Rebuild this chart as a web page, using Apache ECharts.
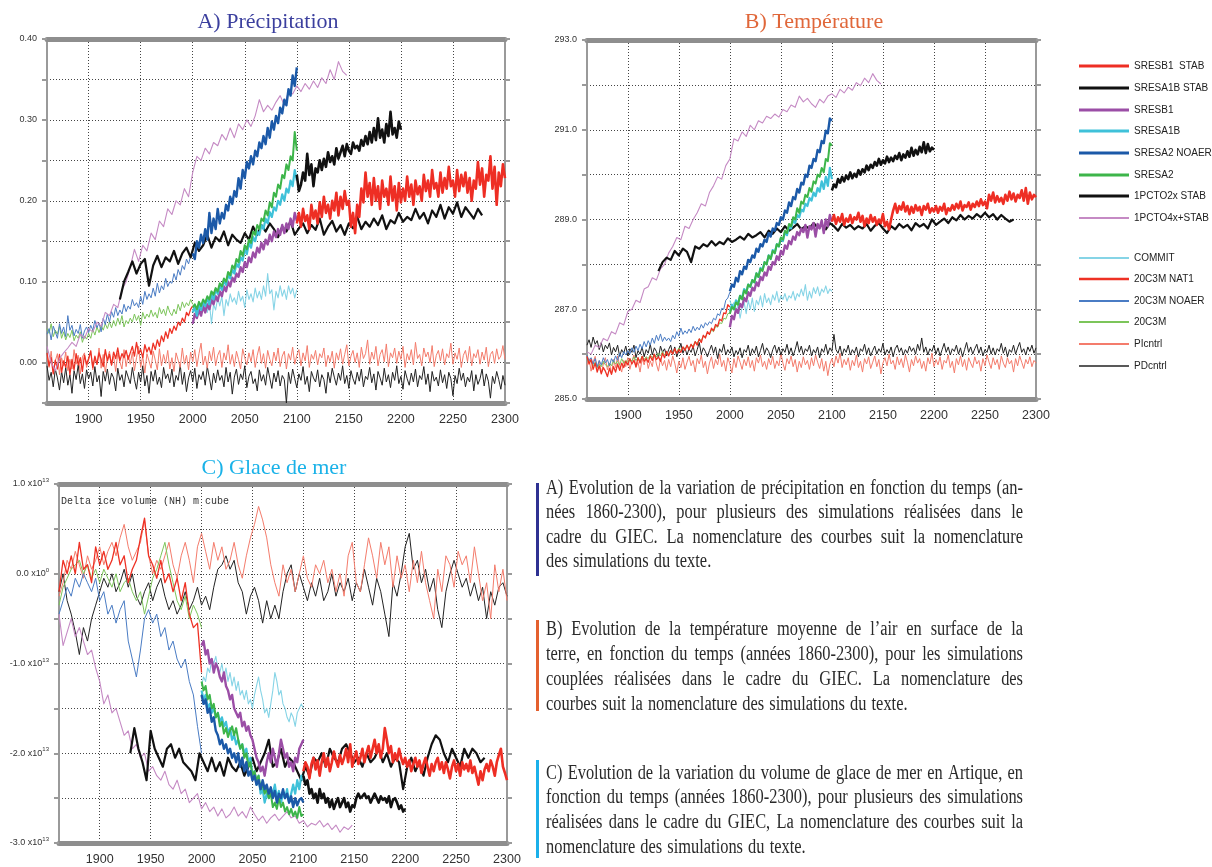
<!DOCTYPE html>
<html>
<head>
<meta charset="utf-8">
<script src="https://cdn.jsdelivr.net/npm/echarts@6.0.0/dist/echarts.min.js"></script>
<style>
  html, body { margin: 0; padding: 0; background: #fff; }
  #chart { width: 1212px; height: 867px; }
</style>
</head>
<body>
<div id="chart"></div>
<script>
// ---------------------------------------------------------------------------
// Simulated climate series, 1860-2300. Each run: first year, sampling step
// (years) and the sampled values.
// ---------------------------------------------------------------------------
const yearTicks = [1900, 1950, 2000, 2050, 2100, 2150, 2200, 2250, 2300];

// ---- A) precipitation change -------------------------------------------
const precipPIcntrl = [
  0.008,-0.006,0.014,-0.012,0.002,0.011,-0.015,0.006,-0.004,0.013,
  -0.01,0.004,-0.008,0.016,-0.002,0.009,-0.014,0.007,0.012,-0.006,
  0.003,0.015,-0.009,0.006,-0.003,0.018,-0.007,0.01,-0.012,0.005,
  0.014,-0.004,0.008,-0.011,0.012,0.001,-0.008,0.016,-0.005,0.009,
  -0.002,0.013,-0.01,0.006,0.02,-0.006,0.008,-0.013,0.011,0.002,
  -0.007,0.014,0.003,-0.009,0.017,-0.004,0.01,-0.001,0.015,-0.008,
  0.006,-0.011,0.012,0.003,-0.006,0.018,-0.002,0.009,-0.009,0.013,
  0.001,0.016,-0.005,0.011,0.024,-0.003,0.008,-0.007,0.014,0.002,
  0.019,-0.004,0.009,0.015,-0.006,0.012,0.003,0.022,-0.002,0.01,
  -0.005,0.014,0.004,-0.008,0.017,0.006,-0.003,0.012,0.001,0.016,
  -0.006,0.009,0.02,-0.001,0.011,-0.007,0.015,0.004,-0.004,0.013,
  0.002,0.018,-0.005,0.008,0.014,-0.008,0.011,0.003,0.019,-0.002,
  0.009,0.016,-0.004,0.012,0.002,0.021,-0.006,0.01,0.004,0.015,
  -0.003,0.011,0.006,0.018,-0.005,0.009,0.001,0.014,-0.007,0.012,
  0.003,0.017,-0.002,0.01,0.022,-0.004,0.008,0.015,0.0,0.012,
  -0.006,0.019,0.005,0.011,0.028,-0.002,0.013,0.004,0.02,-0.004,
  0.01,0.016,0.001,0.023,-0.005,0.012,0.006,0.018,-0.001,0.014,
  0.004,0.02,-0.006,0.011,0.003,0.016,-0.003,0.025,0.005,0.01,
  -0.004,0.018,0.007,0.013,0.0,0.021,-0.005,0.009,0.015,0.002,
  0.017,-0.003,0.011,0.006,0.024,-0.002,0.012,0.004,0.018,-0.006,
  0.009,0.015,0.001,0.02,-0.004,0.011,0.006,0.016,-0.002,0.013,
  0.003,0.019,-0.005,0.01,0.014,-0.001,0.017,0.004,0.008,0.021,
  0.004];
const precipPDcntrl = [
  -0.004,-0.022,-0.012,-0.03,-0.008,-0.019,-0.034,-0.011,-0.025,-0.006,
  -0.028,-0.015,-0.038,-0.01,-0.021,-0.003,-0.026,-0.014,-0.032,-0.009,
  -0.02,-0.012,-0.029,-0.005,-0.024,-0.016,-0.042,-0.011,-0.023,-0.008,
  -0.027,-0.013,-0.019,-0.035,-0.007,-0.022,-0.015,-0.03,-0.01,-0.018,
  -0.026,-0.006,-0.021,-0.033,-0.012,-0.024,-0.004,-0.029,-0.016,-0.038,
  -0.011,-0.023,-0.009,-0.027,-0.018,-0.031,-0.006,-0.02,-0.014,-0.025,
  -0.008,-0.03,-0.016,-0.022,-0.003,-0.027,-0.012,-0.036,-0.019,-0.01,
  -0.024,-0.007,-0.032,-0.015,-0.021,-0.011,-0.028,-0.005,-0.019,-0.034,
  -0.013,-0.025,-0.009,-0.022,-0.016,-0.03,-0.006,-0.024,-0.012,-0.039,
  -0.018,-0.008,-0.027,-0.014,-0.021,-0.004,-0.031,-0.017,-0.011,-0.026,
  -0.02,-0.035,-0.009,-0.023,-0.015,-0.028,-0.006,-0.019,-0.032,-0.013,
  -0.024,-0.01,-0.029,-0.016,-0.021,-0.05,-0.012,-0.026,-0.008,-0.02,
  -0.031,-0.014,-0.022,-0.005,-0.027,-0.017,-0.036,-0.011,-0.019,-0.024,
  -0.009,-0.03,-0.015,-0.021,-0.038,-0.012,-0.025,-0.007,-0.018,-0.028,
  -0.013,-0.022,-0.004,-0.026,-0.016,-0.032,-0.01,-0.02,-0.027,-0.012,
  -0.023,-0.008,-0.03,-0.017,-0.021,-0.006,-0.025,-0.014,-0.034,-0.011,
  -0.019,-0.028,-0.007,-0.024,-0.015,-0.031,-0.012,-0.022,-0.004,-0.026,
  -0.017,-0.033,-0.01,-0.02,-0.028,-0.013,-0.024,-0.008,-0.03,-0.016,
  -0.021,-0.005,-0.027,-0.014,-0.036,-0.011,-0.023,-0.018,-0.029,-0.009,
  -0.025,-0.015,-0.032,-0.012,-0.02,-0.041,-0.016,-0.026,-0.007,-0.022,
  -0.013,-0.03,-0.018,-0.024,-0.01,-0.035,-0.015,-0.027,-0.02,-0.008,
  -0.029,-0.014,-0.023,-0.044,-0.017,-0.026,-0.011,-0.021,-0.033,-0.016,
  -0.028];
const precip20C3MNAT1 = [
  0.012,-0.004,0.006,-0.014,0.003,-0.008,0.01,-0.012,0.002,-0.006,
  0.008,-0.015,0.004,-0.009,0.011,-0.003,0.006,-0.011,0.009,-0.002,
  0.005,0.014,-0.006,0.008,-0.002,0.012,0.004,-0.005,0.016,0.002,
  0.01,-0.003,0.013,0.005,0.018,0.002,0.011,0.006,0.015,0.004,
  0.012,0.02,0.008,0.025,0.011,0.016,0.006,0.022,0.013,0.019,
  0.01,0.024,0.016,0.028,0.02,0.033,0.026,0.038,0.03,0.042,
  0.036,0.045,0.04,0.05,0.046,0.055,0.05,0.062,0.058,0.066,
  0.07];
const precip20C3MNOAER = [
  0.035,0.042,0.028,0.045,0.038,0.03,0.048,0.036,0.044,0.032,
  0.058,0.04,0.046,0.033,0.041,0.036,0.047,0.03,0.039,0.044,
  0.037,0.046,0.04,0.052,0.043,0.049,0.038,0.055,0.047,0.06,
  0.05,0.063,0.056,0.068,0.058,0.065,0.06,0.072,0.063,0.07,
  0.066,0.078,0.07,0.074,0.068,0.082,0.072,0.088,0.078,0.085,
  0.08,0.092,0.082,0.098,0.086,0.095,0.09,0.104,0.094,0.1,
  0.098,0.11,0.102,0.115,0.108,0.12,0.115,0.128,0.122,0.132,
  0.138];
const precip20C3M = [
  0.042,0.036,0.048,0.032,0.04,0.035,0.045,0.03,0.038,0.028,
  0.036,0.031,0.04,0.027,0.034,0.03,0.038,0.025,0.033,0.029,
  0.036,0.03,0.041,0.034,0.044,0.037,0.046,0.04,0.048,0.042,
  0.05,0.043,0.052,0.045,0.055,0.047,0.058,0.044,0.052,0.048,
  0.055,0.05,0.06,0.052,0.058,0.046,0.062,0.054,0.06,0.056,
  0.065,0.057,0.062,0.055,0.068,0.06,0.066,0.058,0.07,0.062,
  0.058,0.066,0.06,0.072,0.064,0.075,0.068,0.074,0.07,0.078,
  0.072];
const precip1PCTO4x = [
  0.02,0.0,-0.01,0.005,0.012,0.018,0.025,0.02,0.035,0.03,
  0.042,0.038,0.05,0.045,0.062,0.058,0.072,0.068,0.09,0.1,
  0.118,0.14,0.125,0.145,0.138,0.16,0.152,0.175,0.168,0.19,
  0.183,0.2,0.195,0.215,0.205,0.235,0.255,0.25,0.265,0.258,
  0.272,0.268,0.282,0.275,0.29,0.278,0.295,0.288,0.3,0.292,
  0.305,0.325,0.31,0.318,0.312,0.322,0.33,0.318,0.335,0.332,
  0.342,0.335,0.345,0.338,0.348,0.34,0.352,0.345,0.362,0.35,
  0.372,0.36,0.355];
const precip1PCTO2x = [
  0.078,0.1,0.112,0.125,0.11,0.122,0.128,0.095,0.12,0.132,
  0.118,0.13,0.125,0.138,0.122,0.135,0.142,0.13,0.148,0.138,
  0.145,0.158,0.142,0.155,0.15,0.162,0.145,0.158,0.152,0.148,
  0.16,0.152,0.168,0.158,0.17,0.162,0.172,0.165,0.155,0.168,
  0.162,0.175,0.158,0.166,0.172,0.16,0.17,0.164,0.178,0.158,
  0.168,0.175,0.162,0.17,0.158,0.172,0.166,0.18,0.165,0.174,
  0.168,0.178,0.17,0.182,0.165,0.176,0.172,0.185,0.174,0.18,
  0.176,0.19,0.178,0.185,0.172,0.188,0.18,0.195,0.178,0.192,
  0.184,0.198,0.18,0.192,0.185,0.178,0.19,0.182];
const precipSRESA2NOAER = [
  0.135,0.128,0.15,0.142,0.158,0.148,0.165,0.152,0.185,0.16,
  0.178,0.165,0.19,0.172,0.185,0.178,0.195,0.188,0.205,0.196,
  0.212,0.205,0.228,0.215,0.238,0.228,0.248,0.24,0.255,0.245,
  0.262,0.255,0.272,0.265,0.28,0.27,0.29,0.278,0.298,0.288,
  0.305,0.296,0.315,0.308,0.325,0.318,0.338,0.33,0.355,0.342,
  0.365];
const precipSRESA2 = [
  0.068,0.072,0.066,0.075,0.07,0.078,0.074,0.082,0.078,0.088,
  0.084,0.092,0.088,0.098,0.094,0.104,0.1,0.112,0.108,0.12,
  0.116,0.128,0.124,0.138,0.132,0.145,0.14,0.152,0.148,0.162,
  0.158,0.17,0.165,0.178,0.175,0.188,0.182,0.198,0.192,0.21,
  0.205,0.22,0.215,0.232,0.228,0.245,0.238,0.255,0.25,0.285,
  0.262];
const precipSRESA1B = [
  0.062,0.068,0.058,0.072,0.065,0.075,0.07,0.08,0.072,0.085,
  0.078,0.09,0.085,0.095,0.09,0.102,0.096,0.108,0.104,0.115,
  0.11,0.122,0.118,0.13,0.126,0.14,0.134,0.148,0.142,0.155,
  0.15,0.162,0.158,0.17,0.165,0.178,0.172,0.186,0.18,0.192,
  0.188,0.2,0.195,0.208,0.2,0.215,0.21,0.225,0.218,0.238,
  0.225];
const precipSRESB1 = [
  0.048,0.06,0.055,0.065,0.058,0.07,0.062,0.072,0.066,0.078,
  0.072,0.082,0.076,0.088,0.082,0.094,0.088,0.1,0.094,0.105,
  0.1,0.11,0.106,0.118,0.112,0.124,0.118,0.13,0.124,0.136,
  0.13,0.142,0.136,0.148,0.14,0.152,0.146,0.158,0.15,0.162,
  0.155,0.165,0.158,0.17,0.16,0.172,0.165,0.178,0.168,0.185,
  0.175];
const precipCOMMIT = [
  0.065,0.072,0.06,0.075,0.068,0.078,0.07,0.062,0.075,0.048,
  0.072,0.065,0.08,0.07,0.082,0.058,0.078,0.07,0.085,0.075,
  0.08,0.072,0.088,0.076,0.082,0.068,0.09,0.078,0.085,0.075,
  0.092,0.08,0.088,0.078,0.095,0.082,0.11,0.085,0.09,0.065,
  0.088,0.08,0.095,0.082,0.09,0.078,0.095,0.085,0.092,0.08,
  0.09];
const precipSRESA1BSTAB = [
  0.232,0.212,0.22,0.235,0.225,0.258,0.232,0.245,0.218,0.24,
  0.235,0.25,0.238,0.252,0.242,0.26,0.248,0.255,0.245,0.265,
  0.252,0.26,0.268,0.255,0.27,0.262,0.258,0.272,0.265,0.268,
  0.262,0.275,0.268,0.28,0.27,0.285,0.272,0.29,0.275,0.302,
  0.278,0.288,0.272,0.295,0.28,0.31,0.282,0.29,0.278,0.298,
  0.288];
const precipSRESB1STAB = [
  0.172,0.185,0.168,0.19,0.175,0.182,0.165,0.195,0.178,0.188,
  0.172,0.198,0.18,0.205,0.185,0.195,0.178,0.2,0.188,0.21,
  0.182,0.205,0.19,0.212,0.195,0.2,0.168,0.185,0.16,0.195,
  0.18,0.215,0.198,0.235,0.205,0.222,0.195,0.228,0.2,0.218,
  0.19,0.225,0.205,0.215,0.195,0.23,0.2,0.218,0.188,0.222,
  0.198,0.215,0.2,0.23,0.205,0.22,0.195,0.225,0.208,0.218,
  0.2,0.232,0.212,0.225,0.205,0.238,0.215,0.222,0.205,0.235,
  0.21,0.228,0.215,0.242,0.218,0.225,0.205,0.238,0.212,0.232,
  0.218,0.235,0.21,0.228,0.2,0.225,0.215,0.248,0.22,0.24,
  0.205,0.232,0.225,0.255,0.215,0.242,0.195,0.235,0.218,0.245,
  0.228];

// ---- B) surface air temperature (K) ------------------------------------
const tempPIcntrl = [
  285.75,285.9,285.62,285.82,285.95,285.68,285.85,285.58,285.78,285.92,
  285.65,285.8,285.55,285.88,285.7,285.96,285.74,285.6,285.86,285.72,
  285.92,285.66,285.84,285.98,285.7,285.82,285.6,285.9,285.76,285.94,
  285.68,285.85,285.72,286.0,285.78,285.62,285.9,285.74,285.86,285.64,
  285.88,285.72,285.96,285.8,285.58,285.84,285.7,285.92,285.66,285.82,
  285.95,285.74,285.86,285.6,285.9,285.78,285.98,285.7,285.84,285.56,
  285.8,285.94,285.68,285.88,285.76,286.0,285.72,285.86,285.62,285.92,
  285.78,285.58,285.9,285.7,285.96,285.82,285.66,285.88,285.74,285.94,
  285.7,285.86,285.62,285.92,285.8,285.98,285.72,285.84,285.66,285.9,
  285.76,285.95,285.68,285.85,285.74,286.02,285.8,285.64,285.9,285.78,
  285.96,285.72,285.88,285.6,285.84,285.7,285.94,285.76,285.86,285.66,
  285.92,285.74,285.98,285.82,285.68,285.9,285.62,285.84,285.52,285.78,
  285.9,285.72,285.96,285.8,286.02,285.7,285.88,285.76,285.92,285.64,
  285.86,285.74,285.98,285.7,285.84,285.6,285.9,285.78,285.94,285.68,
  285.82,285.96,285.72,285.88,285.56,285.8,285.92,285.74,286.0,285.78,
  285.86,285.66,285.94,285.76,285.9,285.7,285.98,285.82,285.6,285.88,
  285.74,285.96,285.8,285.9,285.68,285.84,285.62,285.92,285.78,286.02,
  285.72,285.88,285.76,285.94,285.66,285.86,285.8,285.98,285.7,285.84,
  285.58,285.9,285.76,285.96,285.72,285.88,285.64,285.92,285.8,285.7,
  285.94,285.78,285.86,285.62,285.9,285.74,285.98,285.82,285.68,285.92,
  285.76,285.88,285.66,285.96,285.8,285.7,285.92,285.78,285.86,285.6,
  285.9,285.74,285.96,285.82,285.68,285.88,285.78,285.94,285.72,285.86,
  285.8];
const tempPDcntrl = [
  286.2,286.32,286.15,286.38,286.22,286.3,286.1,286.26,286.05,286.2,
  286.12,286.25,285.98,286.15,286.05,286.2,285.95,286.1,286.02,286.18,
  285.96,286.12,286.04,286.2,285.92,286.08,286.0,286.16,285.94,286.1,
  286.02,286.22,285.98,286.14,286.06,285.92,286.18,286.04,286.12,285.96,
  286.1,286.2,286.0,286.16,285.94,286.08,286.24,286.02,286.14,285.98,
  286.12,286.04,286.18,285.96,286.1,286.26,286.0,286.14,286.06,285.94,
  286.08,286.2,286.02,286.16,285.9,286.12,286.04,286.22,285.98,286.1,
  286.02,286.16,285.94,286.08,286.0,286.14,285.92,286.1,286.04,286.2,
  285.96,286.12,286.02,286.18,285.94,286.08,286.24,286.0,286.14,286.06,
  285.92,286.1,286.2,286.02,286.16,285.98,286.12,286.04,286.22,286.0,
  286.14,285.96,286.1,286.28,286.04,286.18,285.98,286.12,286.06,286.2,
  285.96,286.1,286.02,286.16,285.92,286.12,286.04,286.22,286.0,286.14,
  286.06,286.44,286.1,286.02,286.18,285.96,286.12,286.04,286.2,285.98,
  286.1,286.02,286.16,285.94,286.12,286.06,286.22,286.0,286.14,285.96,
  286.08,286.18,286.0,286.12,286.04,286.24,285.98,286.1,286.02,286.16,
  285.94,286.12,286.2,286.04,286.14,285.98,286.1,286.02,286.18,286.06,
  286.14,286.0,286.22,286.08,286.36,286.04,286.16,285.98,286.12,286.06,
  286.2,286.0,286.14,285.96,286.1,286.24,286.04,286.16,285.98,286.12,
  286.06,286.2,286.0,286.14,285.94,286.1,286.26,286.04,286.16,286.0,
  286.12,286.22,286.02,286.16,285.96,286.1,286.04,286.2,286.0,286.14,
  285.98,286.12,286.06,286.24,286.02,286.16,285.94,286.1,286.04,286.2,
  286.0,286.14,286.26,286.04,286.12,285.98,286.16,286.06,286.2,286.02,
  286.14];
const temp20C3MNAT1 = [
  285.95,285.78,285.88,285.66,285.8,285.6,285.74,285.56,285.7,285.62,
  285.5,285.68,285.55,285.72,285.6,285.78,285.64,285.8,285.7,285.84,
  285.76,285.9,285.78,285.86,285.72,285.92,285.8,285.95,285.84,285.9,
  285.82,285.96,285.86,286.0,285.88,285.94,285.84,286.02,285.92,286.06,
  285.96,286.08,286.0,286.12,286.02,286.1,286.04,286.16,286.08,286.2,
  286.1,286.22,286.14,286.28,286.2,286.34,286.26,286.42,286.36,286.5,
  286.44,286.58,286.52,286.66,286.62,286.78,286.74,286.92,286.9,287.1,
  287.05];
const temp20C3MNOAER = [
  285.98,285.85,285.92,285.78,285.9,285.72,285.86,285.76,285.92,285.8,
  285.88,285.74,285.9,285.82,285.96,285.86,286.02,285.92,286.06,285.98,
  286.08,286.0,286.14,286.04,286.18,286.08,286.22,286.12,286.28,286.16,
  286.3,286.2,286.36,286.24,286.42,286.3,286.45,286.28,286.38,286.3,
  286.36,286.28,286.42,286.34,286.5,286.4,286.58,286.44,286.52,286.46,
  286.56,286.48,286.62,286.52,286.6,286.54,286.66,286.58,286.7,286.64,
  286.72,286.68,286.8,286.76,286.9,286.86,287.02,287.0,287.2,287.25,
  287.38];
const temp20C3M = [
  285.9,285.8,285.86,285.74,285.82,285.7,285.78,285.72,285.84,285.76,
  285.72,285.8,285.74,285.86,285.78,285.84,285.76,285.9,285.8,285.86,
  285.82,285.9,285.84,285.94,285.86,285.92,285.84,285.96,285.88,285.94,
  285.9,285.98,285.92,286.0,285.94,286.02,285.96,286.06,285.98,286.04,
  286.0,286.08,286.02,286.1,286.04,286.14,286.08,286.16,286.1,286.2,
  286.12,286.22,286.18,286.28,286.24,286.34,286.3,286.4,286.38,286.48,
  286.44,286.54,286.5,286.62,286.6,286.7,286.68,286.8,286.78,286.9,
  286.92];
const temp1PCTO4x = [
  286.05,286.0,286.2,286.15,286.35,286.3,286.5,286.45,286.7,286.65,
  286.95,287.0,287.2,287.15,287.45,287.5,287.7,287.65,287.9,288.0,
  288.25,288.4,288.6,288.55,288.85,288.8,289.0,289.15,289.35,289.3,
  289.6,289.75,289.95,289.9,290.2,290.35,290.8,290.75,290.95,290.85,
  291.1,291.0,291.2,291.15,291.3,291.25,291.35,291.28,291.45,291.4,
  291.55,291.5,291.75,291.62,291.7,291.58,291.5,291.68,291.6,291.75,
  291.8,291.72,291.9,291.82,291.95,291.88,292.05,291.98,292.15,292.05,
  292.25,292.1,292.02];
const temp1PCTO2x = [
  287.85,288.05,288.15,288.1,288.3,288.2,288.35,288.28,288.05,288.4,
  288.35,288.45,288.4,288.52,288.42,288.5,288.45,288.58,288.5,288.55,
  288.62,288.55,288.68,288.6,288.65,288.72,288.6,288.75,288.68,288.8,
  288.72,288.85,288.75,288.82,288.9,288.78,288.85,288.8,288.92,288.82,
  288.88,288.78,288.92,288.85,288.75,288.9,288.82,288.88,288.78,288.85,
  288.8,288.9,288.75,288.86,288.92,288.8,288.7,288.85,288.78,288.9,
  288.82,288.88,288.76,288.92,288.84,288.9,288.8,289.0,288.88,288.95,
  289.02,288.92,289.05,288.98,289.1,289.0,289.08,289.02,289.12,289.05,
  289.15,289.05,289.12,289.0,289.1,289.02,288.95,289.0];
const tempSRESA2NOAER = [
  287.4,287.55,287.5,287.7,287.62,287.85,287.78,287.95,287.9,288.1,
  288.05,288.2,288.15,288.35,288.28,288.45,288.4,288.55,288.5,288.7,
  288.62,288.8,288.75,288.92,288.88,289.05,289.0,289.2,289.15,289.38,
  289.3,289.5,289.45,289.68,289.6,289.82,289.78,290.0,289.95,290.2,
  290.15,290.35,290.3,290.55,290.5,290.75,290.7,290.98,290.92,291.25,
  291.2];
const tempSRESA2 = [
  286.9,287.05,287.0,287.15,287.1,287.3,287.22,287.42,287.35,287.55,
  287.5,287.65,287.6,287.8,287.72,287.9,287.85,288.05,288.0,288.2,
  288.12,288.3,288.25,288.45,288.4,288.6,288.55,288.75,288.7,288.9,
  288.85,289.05,289.0,289.25,289.15,289.4,289.35,289.55,289.5,289.7,
  289.62,289.85,289.8,290.0,289.95,290.15,290.05,290.35,290.3,290.7,
  290.65];
const tempSRESA1B = [
  286.95,287.1,287.0,287.2,287.12,287.3,287.25,287.45,287.38,287.55,
  287.5,287.65,287.6,287.8,287.72,287.92,287.88,288.05,288.0,288.2,
  288.12,288.32,288.25,288.45,288.4,288.58,288.52,288.72,288.65,288.85,
  288.8,288.98,288.92,289.1,289.05,289.22,289.18,289.35,289.3,289.48,
  289.42,289.6,289.52,289.7,289.62,289.85,289.68,289.95,289.75,290.15,
  289.9];
const tempSRESB1 = [
  286.6,286.85,286.78,287.0,286.92,287.12,287.05,287.25,287.18,287.38,
  287.3,287.48,287.42,287.6,287.52,287.72,287.65,287.82,287.75,287.95,
  287.88,288.05,288.0,288.18,288.1,288.3,288.22,288.42,288.35,288.52,
  288.45,288.62,288.55,288.72,288.65,288.8,288.72,288.88,288.6,288.85,
  288.78,288.92,288.62,288.9,288.8,288.98,288.7,289.0,288.85,289.1,
  288.95];
const tempCOMMIT = [
  287.2,287.05,287.15,286.95,287.1,286.8,287.05,287.15,286.9,287.2,
  287.0,287.25,286.95,287.2,287.1,287.3,287.05,287.35,287.15,287.25,
  287.1,287.32,287.2,287.4,287.15,287.3,287.22,287.35,287.18,287.3,
  287.25,287.4,287.2,287.35,287.28,287.45,287.3,287.55,287.2,287.4,
  287.25,287.48,287.35,287.5,287.3,287.45,287.38,287.52,287.35,287.45,
  287.4];
const tempSRESA1BSTAB = [
  289.65,289.78,289.72,289.9,289.82,289.95,289.85,289.98,289.9,290.05,
  289.92,290.02,289.95,290.1,290.0,290.12,290.05,290.2,290.1,290.22,
  290.15,290.28,290.2,290.35,290.22,290.32,290.25,290.4,290.28,290.38,
  290.3,290.42,290.35,290.48,290.32,290.45,290.38,290.52,290.4,290.6,
  290.42,290.55,290.45,290.62,290.5,290.72,290.48,290.68,290.52,290.6,
  290.55];
const tempSRESB1STAB = [
  288.95,289.1,288.9,289.05,288.95,289.12,288.88,289.02,288.95,289.1,
  288.92,289.05,289.0,289.15,288.95,289.08,288.85,289.02,288.92,289.1,
  288.95,289.05,288.88,289.0,288.92,289.12,288.85,288.95,288.78,289.0,
  289.2,289.35,289.15,289.3,289.22,289.38,289.18,289.3,289.12,289.28,
  289.15,289.32,289.2,289.28,289.1,289.3,289.22,289.35,289.15,289.25,
  289.18,289.3,289.15,289.28,289.2,289.35,289.12,289.25,289.2,289.32,
  289.22,289.35,289.25,289.4,289.2,289.32,289.28,289.38,289.22,289.35,
  289.28,289.4,289.3,289.45,289.32,289.4,289.25,289.55,289.42,289.6,
  289.38,289.52,289.4,289.48,289.35,289.55,289.42,289.62,289.45,289.58,
  289.4,289.55,289.48,289.65,289.42,289.7,289.35,289.6,289.45,289.55,
  289.5];

// ---- C) Arctic sea-ice volume change (units of 1e13 m3) ---------------
const icePIcntrl = [
  -0.25,-0.1,0.15,0.05,0.25,0.1,-0.05,0.2,0.05,0.15,
  0.3,0.1,0.25,0.35,0.2,0.4,0.55,0.3,0.15,0.25,
  0.35,0.6,0.2,0.0,0.15,0.05,0.2,0.35,0.1,-0.05,
  0.2,0.35,0.15,-0.1,0.3,0.45,0.25,0.05,0.35,0.15,
  0.3,0.05,0.15,0.35,0.1,-0.05,0.2,0.4,0.55,0.75,
  0.6,0.4,0.1,-0.1,-0.25,0.1,-0.1,0.05,-0.2,0.0,
  0.2,-0.05,-0.15,0.1,0.0,0.15,-0.1,0.05,-0.2,0.0,
  -0.25,0.2,0.35,-0.1,-0.2,0.1,0.4,0.2,-0.05,0.35,
  0.1,0.3,-0.15,0.2,-0.05,0.1,-0.2,0.15,-0.1,0.25,
  -0.1,-0.3,-0.5,0.05,-0.2,0.2,0.1,-0.15,0.25,0.1,
  0.2,-0.1,0.3,0.0,-0.3,-0.1,-0.5,0.1,-0.2,0.05,-0.3];
const icePDcntrl = [
  -0.2,0.0,-0.3,-0.45,-0.65,-0.9,-0.6,-0.75,-0.5,-0.35,
  -0.2,-0.05,-0.15,0.0,-0.2,-0.1,0.05,-0.15,0.0,-0.25,
  -0.35,-0.2,-0.1,-0.3,-0.15,-0.05,-0.25,-0.4,-0.3,-0.45,
  -0.35,-0.2,-0.4,-0.3,-0.15,-0.35,-0.25,-0.4,-0.15,0.05,
  0.1,0.2,0.05,0.15,-0.1,-0.2,-0.45,-0.25,-0.15,-0.3,
  -0.55,-0.3,-0.5,-0.35,-0.5,-0.2,0.0,0.1,-0.2,0.0,
  -0.15,-0.3,-0.1,-0.25,-0.05,-0.3,-0.2,0.0,-0.25,-0.1,
  -0.2,-0.05,-0.3,-0.1,-0.2,0.05,-0.15,-0.35,-0.05,-0.2,
  -0.45,-0.7,-0.1,-0.25,0.0,0.3,0.45,0.05,0.15,-0.1,
  0.05,-0.2,-0.05,-0.4,-0.6,-0.2,0.0,0.15,0.0,-0.15,
  -0.05,-0.25,-0.1,-0.3,-0.15,-0.5,-0.2,-0.35,-0.15,-0.1,-0.25];
const ice20C3MNAT1 = [
  -0.2,0.15,0.0,0.2,0.0,0.35,0.05,0.1,-0.1,0.3,
  0.1,0.25,0.05,0.15,0.35,0.1,0.2,-0.1,0.05,0.15,
  0.4,0.62,0.2,0.1,-0.05,0.15,-0.1,0.0,-0.2,-0.05,
  -0.3,-0.1,-0.45,-0.6,-0.55,-1.1];
const ice20C3MNOAER = [
  -0.45,-0.3,-0.15,-0.25,-0.05,-0.15,0.0,-0.1,-0.2,-0.05,
  -0.3,-0.2,-0.45,-0.35,-0.55,-0.4,-0.3,-0.75,-0.95,-1.15,
  -0.85,-0.5,-0.4,-0.55,-0.45,-0.7,-0.6,-0.85,-0.75,-0.95,
  -1.05,-0.95,-1.2,-1.35,-1.7,-2.0];
const ice20C3M = [
  -0.35,-0.15,-0.05,0.05,0.1,0.15,0.0,0.1,-0.05,0.05,
  -0.1,0.05,-0.05,-0.15,0.0,-0.2,-0.1,-0.05,-0.2,-0.3,
  -0.2,-0.45,-0.25,-0.05,0.05,0.2,0.35,0.1,-0.1,-0.3,
  -0.4,-0.25,-0.5,-0.35,-0.45,-0.6];
const ice1PCTO4x = [
  -0.45,-0.8,-0.65,-0.5,-0.7,-0.6,-0.75,-0.9,-0.85,-1.05,
  -1.2,-1.45,-1.35,-1.55,-1.5,-1.65,-1.8,-1.75,-1.95,-1.9,
  -2.05,-2.0,-2.2,-2.15,-2.25,-2.3,-2.2,-2.35,-2.4,-2.3,
  -2.45,-2.4,-2.55,-2.5,-2.45,-2.62,-2.55,-2.65,-2.6,-2.7,
  -2.62,-2.72,-2.68,-2.6,-2.7,-2.65,-2.72,-2.6,-2.68,-2.75,
  -2.7,-2.78,-2.72,-2.68,-2.75,-2.7,-2.65,-2.72,-2.7,-2.78,
  -2.75,-2.82,-2.78,-2.8,-2.75,-2.82,-2.78,-2.85,-2.8,-2.88,
  -2.82,-2.85,-2.8];
const ice1PCTO2x = [
  -2.0,-1.72,-1.95,-2.1,-2.3,-1.75,-1.95,-2.05,-2.15,-1.95,
  -1.9,-2.05,-1.95,-2.1,-2.15,-2.2,-2.3,-2.0,-2.1,-2.2,
  -2.05,-2.2,-2.1,-2.25,-2.05,-2.15,-2.2,-2.1,-2.25,-2.15,
  -2.05,-2.2,-2.1,-2.0,-1.85,-2.15,-2.1,-1.95,-2.15,-2.05,
  -2.1,-2.2,-2.3,-2.15,-2.25,-2.05,-2.1,-2.0,-2.15,-1.95,
  -2.05,-2.1,-1.95,-1.9,-2.0,-2.1,-2.05,-2.15,-2.0,-2.1,
  -2.05,-1.95,-2.1,-2.0,-2.15,-2.05,-2.1,-2.4,-2.15,-2.05,
  -2.2,-2.1,-2.25,-2.05,-1.9,-1.8,-1.85,-2.0,-2.1,-1.95,
  -2.05,-2.15,-1.95,-2.05,-1.95,-2.0,-2.1,-2.05];
const iceSRESA2NOAER = [
  -1.35,-1.45,-1.4,-1.55,-1.5,-1.65,-1.6,-1.75,-1.8,-1.9,
  -1.85,-1.95,-1.9,-2.0,-1.95,-2.05,-2.0,-2.1,-2.0,-2.15,
  -2.05,-2.2,-2.1,-2.25,-2.2,-2.3,-2.25,-2.35,-2.3,-2.4,
  -2.3,-2.4,-2.35,-2.45,-2.38,-2.5,-2.42,-2.55,-2.45,-2.5,
  -2.4,-2.5,-2.45,-2.55,-2.48,-2.6,-2.5,-2.58,-2.52,-2.5,
  -2.55];
const iceSRESA2 = [
  -1.2,-1.3,-1.25,-1.4,-1.35,-1.5,-1.45,-1.6,-1.55,-1.7,
  -1.65,-1.78,-1.72,-1.82,-1.75,-1.7,-1.8,-1.72,-1.85,-1.95,
  -1.9,-2.05,-2.0,-2.15,-2.1,-2.25,-2.2,-2.3,-2.25,-2.4,
  -2.35,-2.45,-2.4,-2.5,-2.45,-2.6,-2.55,-2.62,-2.5,-2.6,
  -2.55,-2.65,-2.6,-2.68,-2.62,-2.7,-2.65,-2.72,-2.6,-2.7,
  -2.68];
const iceSRESA1B = [
  -1.3,-1.4,-1.35,-1.5,-1.45,-1.55,-1.5,-1.6,-1.55,-1.65,
  -1.6,-1.7,-1.65,-1.78,-1.72,-1.85,-1.8,-1.9,-1.85,-1.95,
  -1.9,-2.0,-1.95,-2.1,-2.05,-2.25,-2.2,-2.35,-2.25,-2.45,
  -2.4,-2.55,-2.45,-2.5,-2.4,-2.45,-2.35,-2.5,-2.42,-2.55,
  -2.45,-2.5,-2.4,-2.55,-2.45,-2.35,-2.45,-2.3,-2.4,-2.25,
  -2.3];
const iceSRESB1 = [
  -0.8,-0.75,-0.9,-0.85,-1.0,-0.95,-1.1,-1.0,-1.05,-1.15,
  -1.2,-1.1,-1.25,-1.3,-1.4,-1.35,-1.5,-1.55,-1.6,-1.55,
  -1.7,-1.65,-1.75,-1.7,-1.8,-1.85,-1.95,-2.05,-2.1,-2.2,
  -2.15,-2.25,-2.1,-2.0,-2.1,-1.95,-2.05,-2.15,-2.0,-1.85,
  -1.95,-2.05,-2.0,-2.15,-2.1,-2.2,-2.05,-2.1,-1.95,-1.9,
  -1.85];
const iceCOMMIT = [
  -1.25,-1.15,-1.2,-1.05,-1.1,-0.95,-1.0,-0.92,-1.05,-1.1,
  -1.0,-1.15,-1.05,-1.2,-1.1,-1.25,-1.15,-1.3,-1.2,-1.35,
  -1.3,-1.4,-1.3,-1.45,-1.4,-1.5,-1.35,-1.25,-1.15,-1.3,
  -1.4,-1.55,-1.5,-1.6,-1.45,-1.3,-1.1,-1.2,-1.35,-1.3,
  -1.45,-1.5,-1.6,-1.65,-1.55,-1.6,-1.7,-1.55,-1.5,-1.45,
  -1.5];
const iceSRESA1BSTAB = [
  -2.25,-2.35,-2.3,-2.45,-2.4,-2.5,-2.45,-2.55,-2.4,-2.5,
  -2.45,-2.55,-2.5,-2.6,-2.52,-2.62,-2.55,-2.5,-2.6,-2.55,
  -2.5,-2.6,-2.55,-2.65,-2.58,-2.6,-2.5,-2.45,-2.5,-2.48,
  -2.45,-2.5,-2.48,-2.55,-2.5,-2.45,-2.5,-2.55,-2.48,-2.52,
  -2.5,-2.55,-2.48,-2.6,-2.52,-2.5,-2.55,-2.62,-2.58,-2.65,
  -2.62];
const iceSRESB1STAB = [
  -2.2,-2.1,-2.15,-2.28,-2.12,-2.05,-2.18,-2.08,-2.25,-2.1,
  -2.0,-2.15,-2.05,-2.2,-2.1,-1.98,-2.08,-2.15,-2.02,-2.12,
  -2.05,-1.95,-2.1,-1.9,-2.15,-2.05,-1.98,-2.12,-2.05,-1.95,
  -2.1,-2.0,-1.92,-2.05,-1.95,-1.85,-2.0,-1.9,-2.05,-1.95,
  -1.72,-1.85,-2.0,-1.92,-2.1,-2.0,-2.08,-1.95,-2.05,-2.12,
  -2.05,-2.15,-2.08,-2.2,-2.12,-2.05,-2.15,-2.08,-2.22,-2.12,
  -2.05,-2.15,-2.25,-2.12,-2.2,-2.1,-2.05,-2.18,-2.1,-2.22,
  -2.1,-2.18,-2.28,-2.15,-2.08,-2.2,-2.12,-2.25,-2.1,-2.18,
  -2.12,-2.2,-2.08,-2.22,-2.15,-2.25,-2.35,-2.2,-2.3,-2.18,
  -2.12,-2.2,-2.08,-2.15,-2.25,-2.1,-2.02,-1.95,-2.15,-2.22,
  -2.3];

// ---------------------------------------------------------------------------
// Run styles and legend
// ---------------------------------------------------------------------------
const STYLE = {
  'SRESB1  STAB':  { color: '#ee2e24', width: 2.6, legendH: 3 },
  'SRESA1B STAB':  { color: '#111111', width: 2.6, legendH: 3 },
  'SRESB1':        { color: '#9b4ea6', width: 2.4, legendH: 3 },
  'SRESA1B':       { color: '#3fc1d9', width: 2.2, legendH: 3 },
  'SRESA2 NOAER':  { color: '#1b59a8', width: 2.4, legendH: 3 },
  'SRESA2':        { color: '#3db54a', width: 2.0, legendH: 3 },
  '1PCTO2x STAB':  { color: '#111111', width: 2.2, legendH: 3 },
  '1PCTO4x+STAB':  { color: '#c58ac4', width: 1.1, legendH: 2 },
  'COMMIT':        { color: '#86d4e6', width: 1.1, legendH: 2 },
  '20C3M NAT1':    { color: '#ee3124', width: 1.3, legendH: 2.5 },
  '20C3M NOAER':   { color: '#4a7cc4', width: 1.0, legendH: 2 },
  '20C3M':         { color: '#7cc55a', width: 1.0, legendH: 2 },
  'PIcntrl':       { color: '#f47c6c', width: 1.0, legendH: 2 },
  'PDcntrl':       { color: '#222222', width: 1.0, legendH: 1.6 }
};
const legendRows = [
  ['SRESB1  STAB', 66], ['SRESA1B STAB', 88], ['SRESB1', 110], ['SRESA1B', 131],
  ['SRESA2 NOAER', 153], ['SRESA2', 175], ['1PCTO2x STAB', 196], ['1PCTO4x+STAB', 218],
  ['COMMIT', 258], ['20C3M NAT1', 279], ['20C3M NOAER', 301], ['20C3M', 322],
  ['PIcntrl', 344], ['PDcntrl', 366]
];

// drawing order inside each panel: [run, first year, step, values]
const panelRuns = [
  [
    ['PDcntrl', 1860, 2, precipPDcntrl], ['PIcntrl', 1860, 2, precipPIcntrl],
    ['20C3M', 1860, 2, precip20C3M], ['20C3M NOAER', 1860, 2, precip20C3MNOAER],
    ['20C3M NAT1', 1860, 2, precip20C3MNAT1], ['1PCTO4x+STAB', 1860, 4, precip1PCTO4x],
    ['1PCTO2x STAB', 1930, 4, precip1PCTO2x], ['COMMIT', 2000, 2, precipCOMMIT],
    ['SRESB1', 2000, 2, precipSRESB1], ['SRESA1B', 2000, 2, precipSRESA1B],
    ['SRESA2', 2000, 2, precipSRESA2], ['SRESA2 NOAER', 2000, 2, precipSRESA2NOAER],
    ['SRESA1B STAB', 2100, 2, precipSRESA1BSTAB], ['SRESB1  STAB', 2100, 2, precipSRESB1STAB]
  ],
  [
    ['PIcntrl', 1860, 2, tempPIcntrl], ['PDcntrl', 1860, 2, tempPDcntrl],
    ['20C3M', 1860, 2, temp20C3M], ['20C3M NOAER', 1860, 2, temp20C3MNOAER],
    ['20C3M NAT1', 1860, 2, temp20C3MNAT1], ['1PCTO4x+STAB', 1860, 4, temp1PCTO4x],
    ['1PCTO2x STAB', 1930, 4, temp1PCTO2x], ['COMMIT', 2000, 2, tempCOMMIT],
    ['SRESB1', 2000, 2, tempSRESB1], ['SRESA1B', 2000, 2, tempSRESA1B],
    ['SRESA2', 2000, 2, tempSRESA2], ['SRESA2 NOAER', 2000, 2, tempSRESA2NOAER],
    ['SRESA1B STAB', 2100, 2, tempSRESA1BSTAB], ['SRESB1  STAB', 2100, 2, tempSRESB1STAB]
  ],
  [
    ['PDcntrl', 1860, 4, icePDcntrl], ['PIcntrl', 1860, 4, icePIcntrl],
    ['20C3M', 1860, 4, ice20C3M], ['20C3M NOAER', 1860, 4, ice20C3MNOAER],
    ['20C3M NAT1', 1860, 4, ice20C3MNAT1], ['1PCTO4x+STAB', 1860, 4, ice1PCTO4x],
    ['1PCTO2x STAB', 1930, 4, ice1PCTO2x], ['COMMIT', 2000, 2, iceCOMMIT],
    ['SRESB1', 2000, 2, iceSRESB1], ['SRESA1B', 2000, 2, iceSRESA1B],
    ['SRESA2', 2000, 2, iceSRESA2], ['SRESA2 NOAER', 2000, 2, iceSRESA2NOAER],
    ['SRESA1B STAB', 2100, 2, iceSRESA1BSTAB], ['SRESB1  STAB', 2100, 2, iceSRESB1STAB]
  ]
];

// ---------------------------------------------------------------------------
// Layout
// ---------------------------------------------------------------------------
const grids = [
  { left: 47,  top: 39,  width: 458, height: 364 },
  { left: 587, top: 40,  width: 449, height: 359 },
  { left: 59,  top: 484, width: 448, height: 359 }
];
const yScales = [
  { min: -0.05, max: 0.4, interval: 0.05,
    fmt: v => (v > -1e-9 && Math.abs(v * 10 - Math.round(v * 10)) < 1e-6) ? v.toFixed(2) : '' },
  { min: 285, max: 293, interval: 1,
    fmt: v => (Math.round(v) % 2 === 1) ? v.toFixed(1) : '' },
  { min: -3, max: 1, interval: 0.5,
    fmt: v => Math.abs(v - Math.round(v)) > 1e-6 ? '' :
      (Math.round(v) === 0 ? '{b|0.0 x10}{s|0}' : '{b|' + v.toFixed(1) + ' x10}{s|13}') }
];

const GRID_LINE = { color: '#444', width: 1, type: [1, 2] };
const FRAME = '#8e8e8e';
const FONT = 'Liberation Sans';

const xAxes = [], yAxes = [];
grids.forEach((g, i) => {
  xAxes.push({
    type: 'value', gridIndex: i, position: 'bottom', min: 1860, max: 2300,
    axisLine: { show: true, onZero: false, lineStyle: { color: FRAME, width: 5 } },
    axisTick: { show: false, customValues: yearTicks },
    axisLabel: { customValues: yearTicks, formatter: v => String(v), color: '#333',
                 fontSize: 12.5, fontFamily: FONT, margin: 10 },
    splitLine: { show: true, lineStyle: GRID_LINE }
  });
  xAxes.push({
    type: 'value', gridIndex: i, position: 'top', min: 1860, max: 2300,
    axisLine: { show: true, onZero: false, lineStyle: { color: FRAME, width: 5 } },
    axisTick: { show: false }, axisLabel: { show: false }, splitLine: { show: false }
  });
  const s = yScales[i];
  yAxes.push({
    type: 'value', gridIndex: i, position: 'left', min: s.min, max: s.max, interval: s.interval,
    axisLine: { show: true, onZero: false, lineStyle: { color: '#9a9a9a', width: 2 } },
    axisTick: { show: true, inside: false, length: 5, lineStyle: { color: '#9a9a9a', width: 2 } },
    axisLabel: { formatter: s.fmt, color: '#333', fontSize: 9, fontFamily: FONT, margin: 10,
                 showMinLabel: true, showMaxLabel: true,
                 rich: { b: { fontSize: 9, color: '#333', fontFamily: FONT },
                         s: { fontSize: 6, color: '#333', fontFamily: FONT, padding: [0, 0, 7, 0] } } },
    splitLine: { show: true, lineStyle: GRID_LINE }
  });
  yAxes.push({
    type: 'value', gridIndex: i, position: 'right', min: s.min, max: s.max, interval: s.interval,
    axisLine: { show: true, onZero: false, lineStyle: { color: '#9a9a9a', width: 2 } },
    axisTick: { show: true, inside: false, length: 5, lineStyle: { color: '#9a9a9a', width: 2 } },
    axisLabel: { show: false }, splitLine: { show: false }
  });
});

const series = [];
panelRuns.forEach((runs, p) => {
  runs.forEach(([name, start, step, values], k) => {
    const st = STYLE[name];
    series.push({
      type: 'line', name, xAxisIndex: 2 * p, yAxisIndex: 2 * p,
      data: values.map((v, i) => [start + i * step, v]),
      symbol: 'none', showSymbol: false, color: st.color,
      lineStyle: { color: st.color, width: st.width, join: 'round' },
      z: 2 + k * 0.01, silent: true, animation: false
    });
  });
});

const legends = legendRows.map(([name, y]) => ({
  show: true, left: 1079, top: y - 7, padding: 0, orient: 'vertical',
  itemWidth: 50, itemHeight: STYLE[name].legendH, itemGap: 0,
  icon: 'rect', selectedMode: false, data: [name],
  textStyle: { fontSize: 10, color: '#222', fontFamily: FONT, lineHeight: 14 }
}));

// ---------------------------------------------------------------------------
// Titles, notes and justified caption paragraphs
// ---------------------------------------------------------------------------
const titles = [
  ['A) Précipitation', 268, 22, '#3b3f9e'],
  ['B) Température', 814, 22, '#e0673a'],
  ['C) Glace de mer', 274, 468, '#1ab2e8']
];
const captions = [
  { bar: '#2e3192', top: 483, bottom: 576, ys: [489, 513, 538, 562], lines: [
    'A) Evolution de la variation  de  précipitation en fonction  du temps (an-',
    'nées 1860-2300), pour plusieurs des simulations réalisées dans le',
    'cadre du GIEC. La nomenclature des courbes suit la nomenclature',
    'des simulations du texte.'] },
  { bar: '#e4602f', top: 620, bottom: 711, ys: [630, 655, 680, 705], lines: [
    'B) Evolution de la température moyenne de l’air en surface de la',
    'terre, en fonction du temps (années 1860-2300), pour les simulations',
    'couplées réalisées dans le cadre du GIEC. La nomenclature des',
    'courbes suit la nomenclature des simulations du texte.'] },
  { bar: '#1bb0ea', top: 760, bottom: 858, ys: [774, 798, 823, 848], lines: [
    'C) Evolution de la variation du volume de glace de mer en Artique, en',
    'fonction du temps (années 1860-2300), pour plusieurs des simulations',
    'réalisées dans le cadre du GIEC, La nomenclature des courbes suit la',
    'nomenclature des simulations du texte.'] }
];

const graphics = [];
titles.forEach(([text, x, y, color]) => graphics.push({
  type: 'text', x, y, silent: true,
  style: { text, font: '22px "Liberation Serif"', fill: color,
           textAlign: 'center', textVerticalAlign: 'middle', align: 'center', verticalAlign: 'middle' }
}));
graphics.push({
  type: 'text', x: 61, y: 501, silent: true, z: 10,
  style: { text: 'Delta ice volume (NH) m cube', font: '10px "Liberation Mono"', fill: '#333',
           textVerticalAlign: 'middle', verticalAlign: 'middle' }
});

const CAP_FONT_PX = 20, CAP_SX = 0.82, CAP_X0 = 546, CAP_X1 = 1023;
const capFont = CAP_FONT_PX + 'px "Liberation Serif"';
const measurer = document.createElement('canvas').getContext('2d');
measurer.font = capFont;
captions.forEach(c => {
  graphics.push({ type: 'rect', silent: true,
    shape: { x: 536, y: c.top, width: 3, height: c.bottom - c.top }, style: { fill: c.bar } });
  c.lines.forEach((line, li) => {
    const words = line.trim().split(/\s+/);
    const widths = words.map(w => measurer.measureText(w).width * CAP_SX);
    const total = widths.reduce((a, b) => a + b, 0);
    const last = li === c.lines.length - 1;
    const gap = last ? measurer.measureText(' ').width * CAP_SX * 1.25
                     : (CAP_X1 - CAP_X0 - total) / (words.length - 1);
    let x = CAP_X0;
    words.forEach((w, i) => {
      graphics.push({ type: 'text', x, y: c.ys[li], scaleX: CAP_SX, silent: true,
        style: { text: w, font: capFont, fill: '#2a2a2a',
                 textVerticalAlign: 'middle', verticalAlign: 'middle' } });
      x += widths[i] + gap;
    });
  });
});

const chart = echarts.init(document.getElementById('chart'), null, { renderer: 'canvas' });
chart.setOption({
  animation: false,
  backgroundColor: '#ffffff',
  textStyle: { fontFamily: FONT },
  grid: grids.map(g => Object.assign({ containLabel: false, outerBoundsMode: 'none' }, g)),
  xAxis: xAxes,
  yAxis: yAxes,
  legend: legends,
  series,
  graphic: { elements: graphics }
});
</script>
</body>
</html>
